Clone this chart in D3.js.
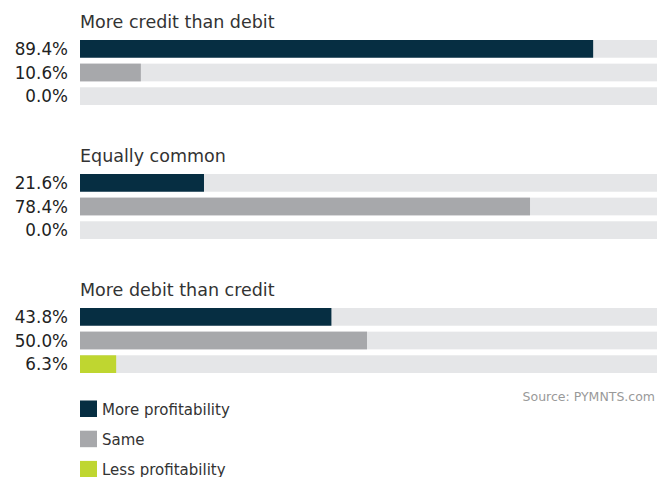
<!DOCTYPE html>
<html>
<head>
<meta charset="utf-8">
<script src="https://cdn.jsdelivr.net/npm/d3@7"></script>
<style>
  html, body { margin: 0; padding: 0; background: #fff; }
  svg { display: block; font-family: "DejaVu Sans", sans-serif; }
</style>
</head>
<body>
<div id="chart"></div>
<script>
// Card-mix groups and the share of merchants reporting each profitability outcome
const groups = ["More credit than debit", "Equally common", "More debit than credit"];
const outcomes = ["More profitability", "Same", "Less profitability"];
const moreProfit = [89.4, 21.6, 43.8];
const sameProfit = [10.6, 78.4, 50.0];
const lessProfit = [0.0, 0.0, 6.3];
const sourceText = "Source: PYMNTS.com";

const colors = ["#062e42", "#a7a8ab", "#bfd630"];
const trackColor = "#e5e6e8";
const textColor = "#333333";

const W = 657, H = 477;
const svg = d3.select("#chart").append("svg")
  .attr("width", W).attr("height", H);

const x = d3.scaleLinear().domain([0, 100]).range([80, 654]);
const groupY = d3.scaleBand().domain(groups).range([17, 419]);
const rowY = d3.scaleBand().domain(outcomes).range([23, 88]).paddingInner(0.25).paddingOuter(0);

const series = [moreProfit, sameProfit, lessProfit];

const g = svg.selectAll("g.group").data(groups).join("g")
  .attr("class", "group")
  .attr("transform", d => `translate(0,${groupY(d)})`);

g.append("text")
  .attr("x", 80).attr("y", 11)
  .attr("font-size", 17.5).attr("fill", textColor)
  .text(d => d);

g.each(function(name, gi) {
  const rows = outcomes.map((o, si) => ({ outcome: o, value: series[si][gi], color: colors[si] }));
  const sel = d3.select(this);
  sel.selectAll("rect.track").data(rows).join("rect")
    .attr("class", "track")
    .attr("x", x(0)).attr("width", W - x(0))
    .attr("y", d => rowY(d.outcome)).attr("height", rowY.bandwidth())
    .attr("fill", trackColor);
  sel.selectAll("rect.bar").data(rows.filter(d => d.value > 0)).join("rect")
    .attr("class", "bar")
    .attr("x", x(0)).attr("width", d => x(d.value) - x(0))
    .attr("y", d => rowY(d.outcome)).attr("height", rowY.bandwidth())
    .attr("fill", d => d.color);
  sel.selectAll("text.val").data(rows).join("text")
    .attr("class", "val")
    .attr("x", 68)
    .attr("y", d => rowY(d.outcome) + rowY.bandwidth() / 2)
    .attr("dy", "0.36em")
    .attr("text-anchor", "end")
    .attr("font-size", 16.8).attr("fill", "#222")
    .text(d => d.value.toFixed(1) + "%");
});

svg.append("text")
  .attr("x", 655).attr("y", 401)
  .attr("text-anchor", "end")
  .attr("font-size", 12.5).attr("fill", "#999")
  .text(sourceText);

const legend = svg.selectAll("g.legend").data(outcomes).join("g")
  .attr("class", "legend")
  .attr("transform", (d, i) => `translate(80,${400.5 + i * 30.2})`);
legend.append("rect")
  .attr("width", 17).attr("height", 16.5)
  .attr("fill", (d, i) => colors[i]);
legend.append("text")
  .attr("x", 22).attr("y", 14.5)
  .attr("font-size", 15).attr("fill", textColor)
  .text(d => d);
</script>
</body>
</html>
